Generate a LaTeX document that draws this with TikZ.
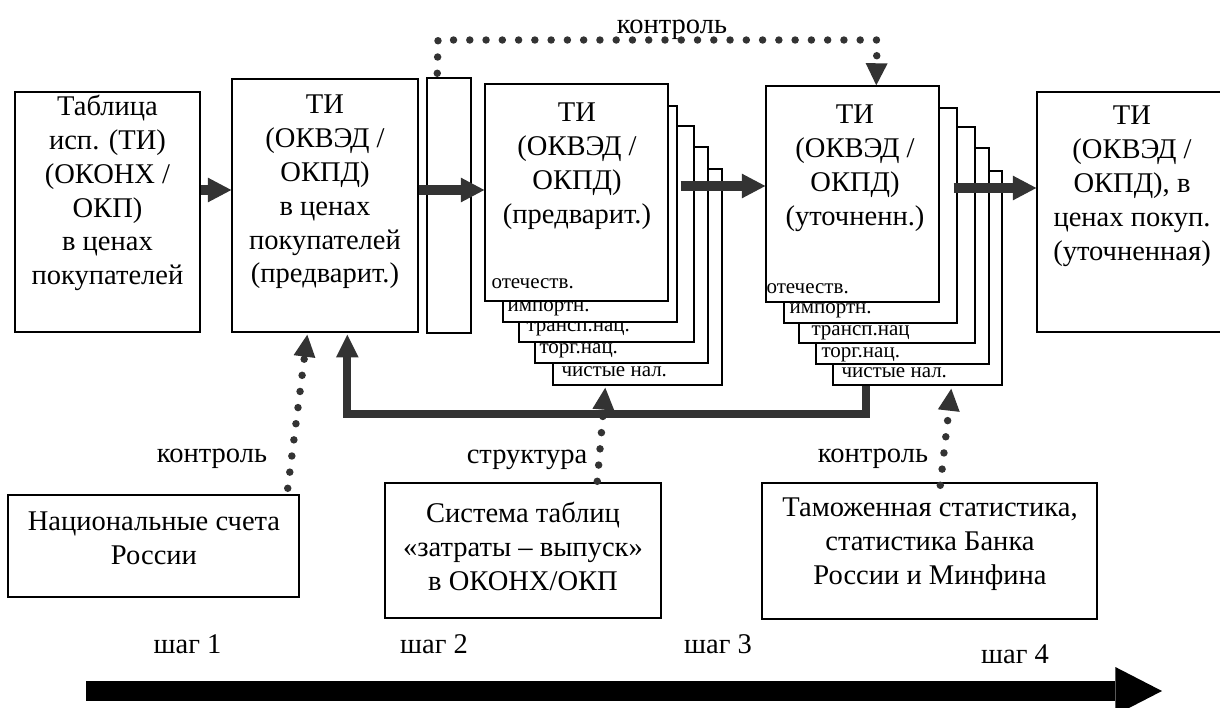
\documentclass[tikz,border=0pt]{standalone}
\usepackage{fontspec}
\setmainfont{Liberation Serif}
\usetikzlibrary{arrows.meta,calc}
\definecolor{arr}{HTML}{333333}
\tikzset{
  fnt/.style={font=\fontsize{21.4pt}{25.35pt}\selectfont},
  sfnt/.style={font=\fontsize{15.75pt}{18pt}\selectfont},
  box/.style={draw=black, line width=1.1pt, fill=white, inner sep=0pt},
  dim/.style 2 args={minimum width=#1*0.75pt, minimum height=#2*0.75pt},
  txt/.style={fnt, align=center, inner sep=0pt, anchor=north},
  lbl/.style={fnt, inner sep=0pt, anchor=base},
  sheetlbl/.style={sfnt, inner sep=0pt, anchor=base west},
  thickarrow/.style={draw=arr, line width=7.3pt, -{Triangle[length=17.5pt,width=18.5pt,line width=0pt]}},
  fbarrow/.style={draw=arr, line width=6pt, -{Triangle[length=17pt,width=17pt,line width=0pt]}},
  dotarrow/.style={draw=arr, line width=5.6pt, line cap=round, dash pattern=on 0pt off 12.2pt, -{Triangle[length=16.5pt,width=16.5pt,line width=0pt]}},
  bigarrow/.style={draw=black, line width=15pt, -{Triangle[length=35pt,width=36pt,line width=0pt]}},
}
\begin{document}
\begin{tikzpicture}[x=0.75pt,y=-0.75pt]
\clip (0,0) rectangle (1220,707);
\fill[white] (0,0) rectangle (1220,707);

% top row boxes
\node[box,dim={185}{240}] (b1) at (107.5,212) {};
\node[box,dim={186}{253}] (b2) at (325,205.5) {};
\node[box,dim={44}{255}] (nb) at (449,205.5) {};
\node[box,dim={191}{240}] (rb) at (1132.5,212) {};

% stack 1 (back to front)
\node[box,dim={169}{216}] (s1e) at (637.5,277) {};
\node[sheetlbl] (l1e) at ($(s1e.south west)+(9,-9)$) {чистые нал.};
\node[box,dim={173}{216}] (s1d) at (621.5,255) {};
\node[sheetlbl] (l1d) at ($(s1d.south west)+(5,-10)$) {торг.нац.};
\node[box,dim={175}{216}] (s1c) at (606.5,234) {};
\node[sheetlbl] (l1c) at ($(s1c.south west)+(8,-11)$) {трансп.нац.};
\node[box,dim={174}{216}] (s1b) at (590,214) {};
\node[sheetlbl] (l1b) at ($(s1b.south west)+(5,-11)$) {импортн.};
\node[box,dim={183}{217}] (s1a) at (576.5,192.5) {};
\node[sheetlbl] (l1a) at ($(s1a.south west)+(7,-13)$) {отечеств.};

% stack 2 (back to front)
\node[box,dim={169}{214}] (s2e) at (917.5,278) {};
\node[sheetlbl] (l2e) at ($(s2e.south west)+(9,-8)$) {чистые нал.};
\node[box,dim={173}{216}] (s2d) at (902.5,256) {};
\node[sheetlbl] (l2d) at ($(s2d.south west)+(6,-7)$) {торг.нац.};
\node[box,dim={176}{216}] (s2c) at (887,235) {};
\node[sheetlbl] (l2c) at ($(s2c.south west)+(13,-8)$) {трансп.нац};
\node[box,dim={173}{215}] (s2b) at (870.5,215.5) {};
\node[sheetlbl] (l2b) at ($(s2b.south west)+(6,-10)$) {импортн.};
\node[box,dim={173}{216}] (s2a) at (852.5,194) {};
\node[sheetlbl] (l2a) at ($(s2a.south west)+(1,-9)$) {отечеств.};

% bottom boxes
\node[box,dim={291}{102}] (n1) at (153.5,546) {};
\node[box,dim={276}{135}] (n2) at (523,550.5) {};
\node[box,dim={335}{136}] (n3) at (929.5,551) {};

% box texts
\node[txt] (t1) at (107.5,95) {Таблица\\исп. (ТИ)\\(ОКОНХ /\\ОКП)\\в ценах\\покупателей};
\node[txt] (t2) at (325,95) {ТИ\\(ОКВЭД /\\ОКПД)\\в ценах\\покупателей\\(предварит.)};
\node[txt] (t3) at (577,103) {ТИ\\(ОКВЭД /\\ОКПД)\\(предварит.)};
\node[txt] (t4) at (855,105) {ТИ\\(ОКВЭД /\\ОКПД)\\(уточненн.)};
\node[txt] (t5) at (1132,106) {ТИ\\(ОКВЭД /\\ОКПД), в\\ценах покуп.\\(уточненная)};
\node[txt] (t6) at (154,512) {Национальные счета\\России};
\node[txt] (t7) at (523,502) {Система таблиц\\«затраты – выпуск»\\в ОКОНХ/ОКП};
\node[txt] (t8) at (930,498) {Таможенная статистика,\\статистика Банка\\России и Минфина};

% thick arrows
\coordinate (ya) at (0,190);
\coordinate (yb) at (0,186);
\coordinate (yc) at (0,188);
\draw[thickarrow] (b1.east |- ya) -- (b2.west |- ya);
\draw[thickarrow] (b2.east |- ya) -- (s1a.west |- ya);
\draw[thickarrow] ($(s1b.east |- yb)+(3,0)$) -- (s2a.west |- yb);
\draw[thickarrow] ($(s2b.east |- yc)+(-4,0)$) -- (rb.west |- yc);

% feedback
\draw[fbarrow] ($(s2e.south west)+(34,0)$) -- ++(0,28) -| ($(b2.south west)+(116,2)$);

% dotted arrows
\coordinate (c1) at (438,40);
\coordinate (c2) at (877,40);
\draw[dotarrow] ($(nb.north west)+(11,-4)$) -- (c1) -- (c2) -- ($(s2a.north west)+(111,0)$);
\draw[dotarrow] ($(n1.north east)+(-12,-6)$) -- ($(b2.south west)+(76,2)$);
\draw[dotarrow] ($(n2.north west)+(213,-1)$) -- ($(s1e.south west)+(53,2)$);
\draw[dotarrow] ($(n3.north west)+(179,3)$) -- ($(s2e.south west)+(119,3)$);

% labels
\node[lbl] (k0) at (672,33) {контроль};
\node[lbl] (k1) at (212,462) {контроль};
\node[lbl] (k2) at (527,463) {структура};
\node[lbl] (k3) at (873,462) {контроль};
\node[lbl] (sh1) at (187.5,653) {шаг 1};
\node[lbl] (sh2) at (434,653) {шаг 2};
\node[lbl] (sh3) at (718,653) {шаг 3};
\node[lbl] (sh4) at (1015,663) {шаг 4};

% big bottom arrow
\coordinate (bs) at (86,691);
\coordinate (be) at (1162,691);
\draw[bigarrow] (bs) -- (be);
\end{tikzpicture}
\end{document}
